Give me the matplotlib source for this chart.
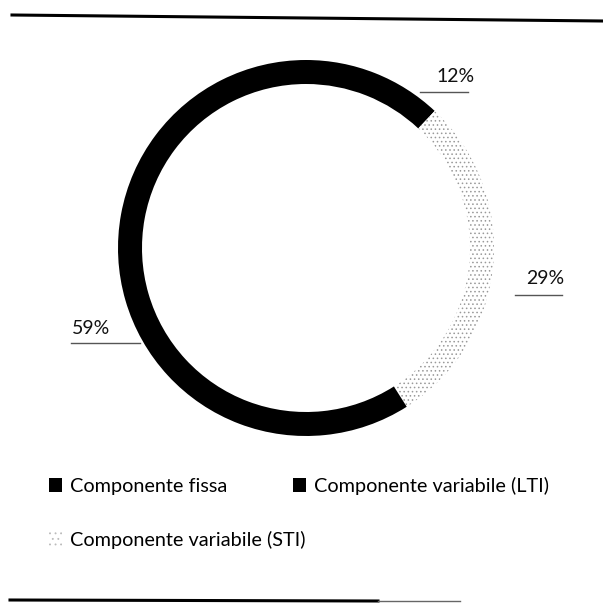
import matplotlib.pyplot as plt
from matplotlib.patches import Patch

plt.rcParams['font.family'] = ['Lato', 'DejaVu Sans']
plt.rcParams['hatch.linewidth'] = 0.6

# data
components = ['Componente variabile (LTI)', 'Componente variabile (STI)', 'Componente fissa']
shares = [12, 29, 59]
share_labels = ['12%', '29%', '59%']

H = 604
fig = plt.figure(figsize=(6.03, 6.04), dpi=100)
ax = fig.add_axes([0, 0, 1, 1])

# donut, starting at 12 o'clock going clockwise
wedges, _ = ax.pie(shares, startangle=90, counterclock=False,
                   center=(306, H - 248), radius=188,
                   colors=['black', 'white', 'black'],
                   wedgeprops=dict(width=24, linewidth=0))
wedges[1].set_hatch('....')
wedges[1].set_edgecolor('#9a9a9a')

ax.set_xlim(0, 603)
ax.set_ylim(0, H)
ax.set_aspect('equal')
ax.axis('off')

# percentage labels with underline
label_pos = {'12%': (456, 77, 420, 468, 92),
             '29%': (545, 278, 515, 562, 295),
             '59%': (91, 328, 71, 140, 343)}
for lab in share_labels:
    tx, ty, x0, x1, ly = label_pos[lab]
    ax.text(tx, H - ty, lab, ha='center', va='center', fontsize=14, color='#111111')
    ax.plot([x0, x1], [H - ly, H - ly], color='#555555', lw=1.0)

# frame lines top and bottom (scan)
ax.plot([12, 603], [H - 15, H - 21], color='black', lw=2.2)
ax.plot([10, 378], [H - 600, H - 601], color='black', lw=2.2)
ax.plot([378, 460], [H - 601, H - 601], color='#666666', lw=1.0)

fs = 14.3
row1 = [Patch(facecolor='black', label=components[2]),
        Patch(facecolor='black', label=components[0])]
row2 = [Patch(facecolor='white', edgecolor='#bbbbbb', hatch='...', lw=0,
              label=components[1])]
leg1 = ax.legend(handles=row1, ncol=2, loc='center left',
                 bbox_to_anchor=(49 / 603, 1 - 486 / H), frameon=False,
                 fontsize=fs, handlelength=0.65, handleheight=0.65,
                 handletextpad=0.4, columnspacing=3.3,
                 borderpad=0, borderaxespad=0)
ax.add_artist(leg1)
ax.legend(handles=row2, loc='center left',
          bbox_to_anchor=(49 / 603, 1 - 540 / H), frameon=False,
          fontsize=fs, handlelength=0.65, handleheight=0.65,
          handletextpad=0.4, borderpad=0, borderaxespad=0)

fig.savefig('out.png', dpi=100)
